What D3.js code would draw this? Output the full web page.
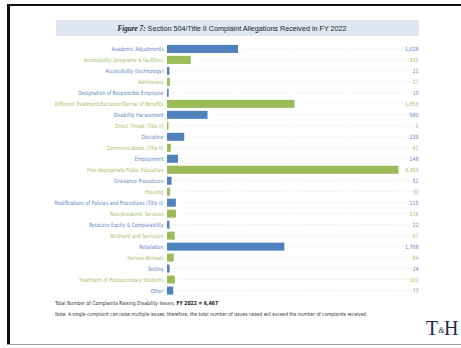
<!DOCTYPE html>
<html>
<head>
<meta charset="utf-8">
<script src="https://cdn.jsdelivr.net/npm/d3@7"></script>
<style>
  body { margin: 0; background: #fff; }
  svg { display: block; }
</style>
</head>
<body>
<svg id="chart" width="461" height="348"></svg>
<script>
const categories = [
  "Academic Adjustments",
  "Accessibility (programs & facilities)",
  "Accessibility (technology)",
  "Admissions",
  "Designation of Responsible Employee",
  "Different Treatment/Exclusion/Denial of Benefits",
  "Disability Harassment",
  "Direct Threat (Title II)",
  "Discipline",
  "Communications (Title II)",
  "Employment",
  "Free Appropriate Public Education",
  "Grievance Procedures",
  "Housing",
  "Modifications of Policies and Procedures (Title II)",
  "Non-Academic Services",
  "Resource Equity & Comparability",
  "Restraint and Seclusion",
  "Retaliation",
  "Service Animals",
  "Testing",
  "Treatment of Postsecondary Students",
  "Other",
];
const values = [1028, 335, 21, 27, 10, 1856, 580, 5, 239, 41, 148, 3383, 52, 30, 115, 116, 22, 97, 1708, 84, 24, 102, 77];
const palette = ["#4f81bd", "#9bbb59"];
const labelPalette = ["#5a86c4", "#a3c163"];

const font = "DejaVu Sans Condensed, Liberation Sans Narrow, sans-serif";
const svg = d3.select("#chart");

// frame of the slide
svg.append("line").attr("x1", 7).attr("x2", 461).attr("y1", 5).attr("y2", 5)
  .attr("stroke", "#111").attr("stroke-width", 2);
svg.append("line").attr("x1", 8.5).attr("x2", 8.5).attr("y1", 4).attr("y2", 345)
  .attr("stroke", "#111").attr("stroke-width", 3);
svg.append("line").attr("x1", 7).attr("x2", 461).attr("y1", 344.5).attr("y2", 344.5)
  .attr("stroke", "#999").attr("stroke-width", 1.2);

// title band
svg.append("rect").attr("x", 56).attr("y", 20).attr("width", 363).attr("height", 16)
  .attr("fill", "#dfe6f1");
const title = svg.append("text").attr("x", 232).attr("y", 30.5)
  .attr("text-anchor", "middle").attr("font-size", 7.2).attr("fill", "#222")
  .attr("font-family", "Liberation Sans, Arial, sans-serif");
title.append("tspan").attr("font-family", "Liberation Serif, serif")
  .attr("font-style", "italic").attr("font-weight", "bold").text("Figure 7:");
title.append("tspan").text(" Section 504/Title II Complaint Allegations Received in FY 2022");

const x0 = 167;
const x = d3.scaleLinear().domain([0, 3383]).range([x0, 397.5]);
const y = d3.scaleBand().domain(categories).range([43.5, 296]).paddingInner(0.27).paddingOuter(0.13);

const rows = svg.append("g").selectAll("g")
  .data(categories.map((c, i) => ({ name: c, value: values[i], i })))
  .join("g");

rows.append("line")
  .attr("x1", x0).attr("x2", 412)
  .attr("y1", d => y(d.name) + y.bandwidth() / 2)
  .attr("y2", d => y(d.name) + y.bandwidth() / 2)
  .attr("stroke", "#c4c8cc").attr("stroke-width", 0.6)
  .attr("stroke-dasharray", "0.8,2");

rows.append("rect")
  .attr("x", x0)
  .attr("y", d => y(d.name))
  .attr("height", y.bandwidth())
  .attr("width", d => Math.max(1.5, x(d.value) - x0 + (d.value > 0 ? 1 : 0)))
  .attr("fill", d => palette[d.i % 2]);

// gap between bar end and dotted line
rows.append("rect")
  .attr("x", d => x(d.value) + 1.5)
  .attr("y", d => y(d.name))
  .attr("height", y.bandwidth())
  .attr("width", 2)
  .attr("fill", "#fff");

// category labels, squeezed horizontally like the condensed source font
rows.append("text")
  .attr("transform", d => `translate(163.5,${y(d.name) + y.bandwidth() / 2}) scale(0.87,1)`)
  .attr("dy", "0.35em")
  .attr("text-anchor", "end")
  .attr("font-family", font)
  .attr("font-size", 5.8)
  .attr("fill", d => labelPalette[d.i % 2])
  .text(d => d.name);

rows.append("text")
  .attr("transform", d => `translate(418.5,${y(d.name) + y.bandwidth() / 2}) scale(0.9,1)`)
  .attr("dy", "0.35em")
  .attr("text-anchor", "end")
  .attr("font-family", font)
  .attr("font-size", 5.8)
  .attr("fill", d => labelPalette[d.i % 2])
  .text(d => d3.format(",")(d.value));

// footer
const foot = svg.append("text").attr("transform", "translate(55,305) scale(0.9,1)")
  .attr("font-family", font)
  .attr("font-size", 5.6).attr("fill", "#333");
foot.append("tspan").text("Total Number of Complaints Raising Disability Issues, ");
foot.append("tspan").attr("font-weight", "bold").attr("fill", "#111").text("FY 2022 = 6,467");

svg.append("text").attr("transform", "translate(55,316) scale(0.92,1)")
  .attr("font-family", font)
  .attr("font-size", 5.3).attr("fill", "#333")
  .text("Note: A single complaint can raise multiple issues; therefore, the total number of issues raised will exceed the number of complaints received.");

// logo
const logo = svg.append("text").attr("x", 426).attr("y", 335)
  .attr("font-family", "Liberation Serif, serif").attr("fill", "#1c2a4a");
logo.append("tspan").attr("font-size", 20).text("T");
logo.append("tspan").attr("font-size", 8).attr("dy", -2).attr("font-style", "italic").text("&");
logo.append("tspan").attr("font-size", 20).attr("dx", -0.5).attr("dy", 2).text("H");
</script>
</body>
</html>
